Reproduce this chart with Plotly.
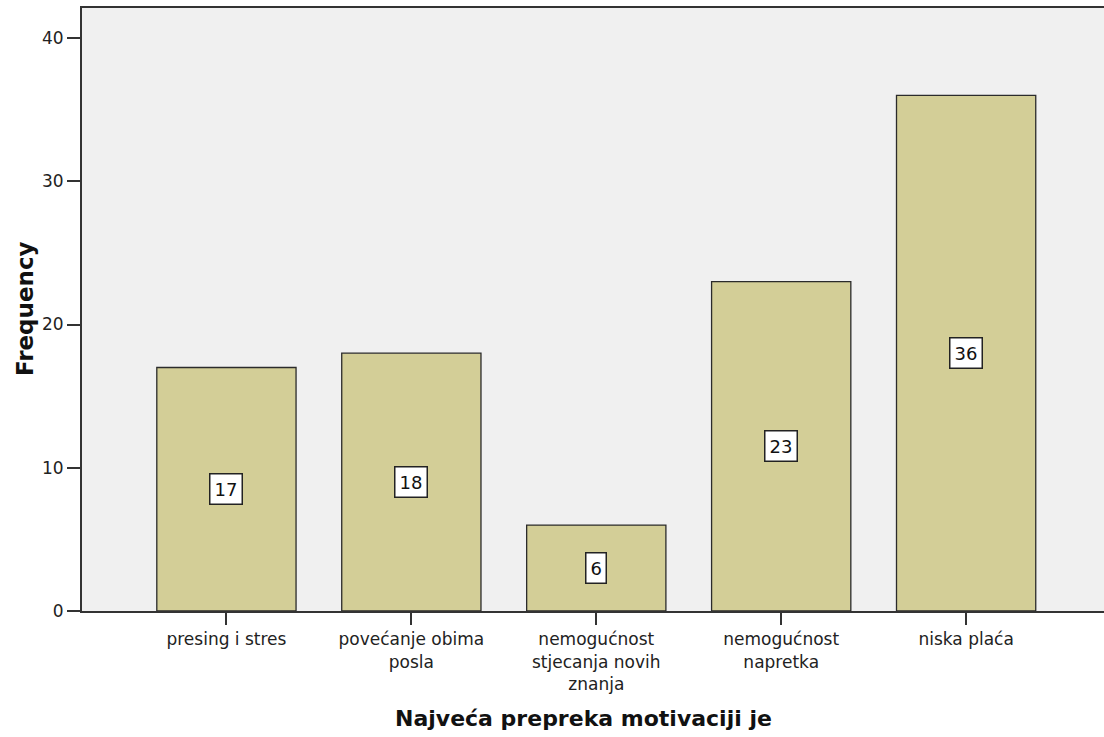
import plotly.graph_objects as go

categories = ["presing i stres", "povećanje obima posla", "nemogućnost stjecanja novih znanja",
              "nemogućnost napretka", "niska plaća"]
tick_labels = ["presing i stres", "povećanje obima<br>posla", "nemogućnost<br>stjecanja novih<br>znanja",
               "nemogućnost<br>napretka", "niska plaća"]
frequencies = [17, 18, 6, 23, 36]
y_ticks = [0, 10, 20, 30, 40]

W, H = 1112, 737
ML, MR, MT, MB = 82, 0, 8, 126

fig = go.Figure()
fig.add_trace(go.Bar(
    x=list(range(len(categories))), y=frequencies,
    width=0.753,
    marker=dict(color="#D3CE97", line=dict(color="#2b2b2b", width=1.3)),
    hoverinfo="y", showlegend=False,
))

for i, v in enumerate(frequencies):
    fig.add_annotation(x=i, y=v / 2, xref="x", yref="y", text=str(v), showarrow=False,
                       font=dict(family="DejaVu Sans", size=18, color="#111"),
                       bgcolor="white", bordercolor="#222", borderwidth=1.5, borderpad=4)

fig.add_annotation(x=(584 - ML) / (W - ML - MR), y=(H - MB - 718) / (H - MT - MB),
                   xref="paper", yref="paper", text="Najveća prepreka motivaciji je",
                   showarrow=False, font=dict(family="DejaVu Sans", size=22, color="#111", weight="bold"),
                   xanchor="center", yanchor="middle")
fig.add_annotation(x=(25 - ML) / (W - ML - MR), y=(H - MB - 309) / (H - MT - MB),
                   xref="paper", yref="paper", text="Frequency", textangle=-90,
                   showarrow=False, font=dict(family="DejaVu Sans", size=23, color="#111", weight="bold"),
                   xanchor="center", yanchor="middle")

fig.update_layout(
    width=W, height=H,
    margin=dict(l=ML, r=MR, t=MT, b=MB),
    paper_bgcolor="white", plot_bgcolor="#F0F0F0",
    font=dict(family="DejaVu Sans", color="#111"),
    bargap=0.247,
)
fig.update_xaxes(
    range=[-0.781, 4.778], tickmode="array", tickvals=list(range(len(categories))),
    ticktext=tick_labels, tickfont=dict(family="DejaVu Sans", size=17, color="#222"),
    ticks="outside", ticklen=12, tickwidth=2, tickcolor="#333",
    showline=True, linecolor="#333", linewidth=2, mirror=True,
    showgrid=False, zeroline=False, fixedrange=True,
)
fig.update_yaxes(
    range=[0, 42.1], tickmode="array", tickvals=y_ticks,
    tickfont=dict(family="DejaVu Sans", size=17, color="#222"),
    ticks="outside", ticklen=13, tickwidth=2, tickcolor="#333",
    showline=True, linecolor="#333", linewidth=2, mirror=True,
    showgrid=False, zeroline=False, fixedrange=True,
)

fig.write_html("out.html", config={"displayModeBar": False},
               post_script="document.body.style.margin='0';document.body.style.overflow='hidden';")
